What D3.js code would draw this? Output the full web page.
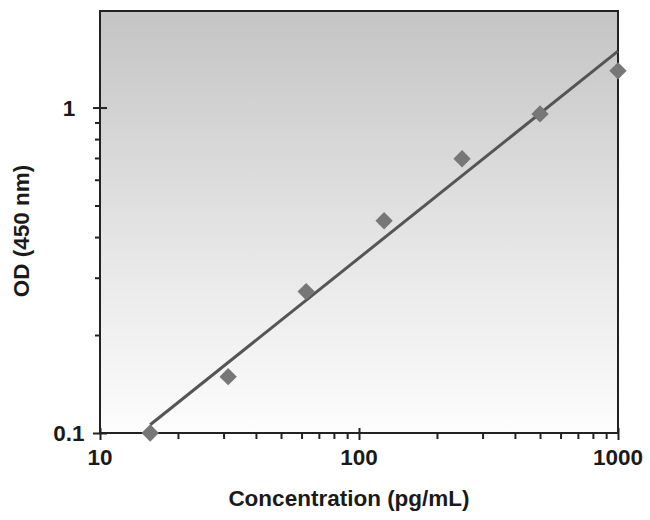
<!DOCTYPE html>
<html>
<head>
<meta charset="utf-8">
<script src="https://cdn.jsdelivr.net/npm/d3@7"></script>
<style>
  body { margin: 0; background: #fff; }
  text { font-family: "Liberation Sans", Arial, sans-serif; font-weight: bold; fill: #1a1a1a; }
</style>
</head>
<body>
<div id="chart"></div>
<script>
// standard curve points
const concentration = [15.625, 31.25, 62.5, 125, 250, 500, 1000];
const od = [0.1, 0.149, 0.272, 0.449, 0.696, 0.956, 1.297];
// fitted line at its two ends
const fitConc = [15.625, 1000];
const fitOd = [0.106, 1.49];
const xTickValues = [10, 100, 1000];
const yTickValues = [0.1, 1];

const width = 650;
const height = 520;
const margin = {top: 11, right: 32, bottom: 87, left: 100};

function initSvg(){
    return d3.select('#chart')
        .append('svg')
        .attr('width', width)
        .attr('height', height);
}

const svg = initSvg();
const x = d3.scaleLog().domain([10, 1000]).range([margin.left, width - margin.right]);
const y = d3.scaleLog().domain([0.1, 1.98]).range([height - margin.bottom, margin.top]);

// grey-to-white background
const grad = svg.append('defs').append('linearGradient')
    .attr('id', 'bg').attr('x1', 0).attr('y1', 0).attr('x2', 0).attr('y2', 1);
grad.append('stop').attr('offset', '0%').attr('stop-color', '#c4c4c4');
grad.append('stop').attr('offset', '55%').attr('stop-color', '#e5e5e5');
grad.append('stop').attr('offset', '100%').attr('stop-color', '#fdfdfd');

svg.append('rect')
    .attr('x', x.range()[0]).attr('y', y.range()[1])
    .attr('width', x.range()[1] - x.range()[0])
    .attr('height', y.range()[0] - y.range()[1])
    .attr('fill', 'url(#bg)');

// minor ticks
const xMinor = [];
[10, 100].forEach(b => { for (let i = 2; i <= 9; i++) xMinor.push(b * i); });
const yMinor = [];
for (let i = 2; i <= 9; i++) yMinor.push(0.1 * i);

svg.append('g').attr('transform', `translate(0,${y.range()[0]})`)
    .call(d3.axisBottom(x).tickValues(xMinor).tickSize(6).tickFormat(''))
    .call(g => g.select('.domain').remove());
svg.append('g').attr('transform', `translate(${x.range()[0]},0)`)
    .call(d3.axisLeft(y).tickValues(yMinor).tickSize(5).tickFormat(''))
    .call(g => g.select('.domain').remove());

// major ticks cross the axis line
svg.append('g').attr('transform', `translate(0,${y.range()[0]})`)
    .call(d3.axisBottom(x).tickValues(xTickValues).tickSizeInner(7).tickSizeOuter(0).tickFormat(''))
    .call(g => g.select('.domain').remove())
    .call(g => g.selectAll('.tick line').attr('y1', -5));
svg.append('g').attr('transform', `translate(${x.range()[0]},0)`)
    .call(d3.axisLeft(y).tickValues(yTickValues).tickSizeInner(7).tickSizeOuter(0).tickFormat(''))
    .call(g => g.select('.domain').remove())
    .call(g => g.selectAll('.tick line').attr('x1', 7));

svg.selectAll('.tick line').attr('stroke', '#222').attr('stroke-width', 2);

// tick labels
svg.append('g').selectAll('text')
    .data(xTickValues).join('text')
    .attr('x', d => x(d))
    .attr('y', 465)
    .attr('text-anchor', 'middle')
    .style('font-size', '22.5px')
    .text(d => d3.format('d')(d));
svg.append('g').selectAll('text')
    .data(yTickValues).join('text')
    .attr('x', 69)
    .attr('y', d => y(d) + 8)
    .attr('text-anchor', 'middle')
    .style('font-size', '22.5px')
    .text(d => d);

// frame
svg.append('rect')
    .attr('x', x.range()[0]).attr('y', y.range()[1])
    .attr('width', x.range()[1] - x.range()[0])
    .attr('height', y.range()[0] - y.range()[1])
    .attr('fill', 'none')
    .attr('stroke', '#222')
    .attr('stroke-width', 2);

// fitted line
const line = d3.line().x(d => x(d[0])).y(d => y(d[1]));
svg.append('path')
    .datum(fitConc.map((c, i) => [c, fitOd[i]]))
    .attr('d', line)
    .attr('fill', 'none')
    .attr('stroke', '#555')
    .attr('stroke-width', 3);

// diamonds
svg.append('g').selectAll('path')
    .data(concentration.map((c, i) => [c, od[i]])).join('path')
    .attr('d', d3.symbol(d3.symbolSquare, 150))
    .attr('transform', d => `translate(${x(d[0])},${y(d[1])}) rotate(45)`)
    .attr('fill', '#777');

// axis titles
svg.append('text')
    .attr('x', (x.range()[0] + x.range()[1]) / 2 - 10)
    .attr('y', 506)
    .attr('text-anchor', 'middle')
    .style('font-size', '22.5px')
    .text('Concentration (pg/mL)');
svg.append('text')
    .attr('transform', 'translate(29,231) rotate(-90)')
    .attr('text-anchor', 'middle')
    .style('font-size', '22.5px')
    .text('OD (450 nm)');
</script>
</body>
</html>
